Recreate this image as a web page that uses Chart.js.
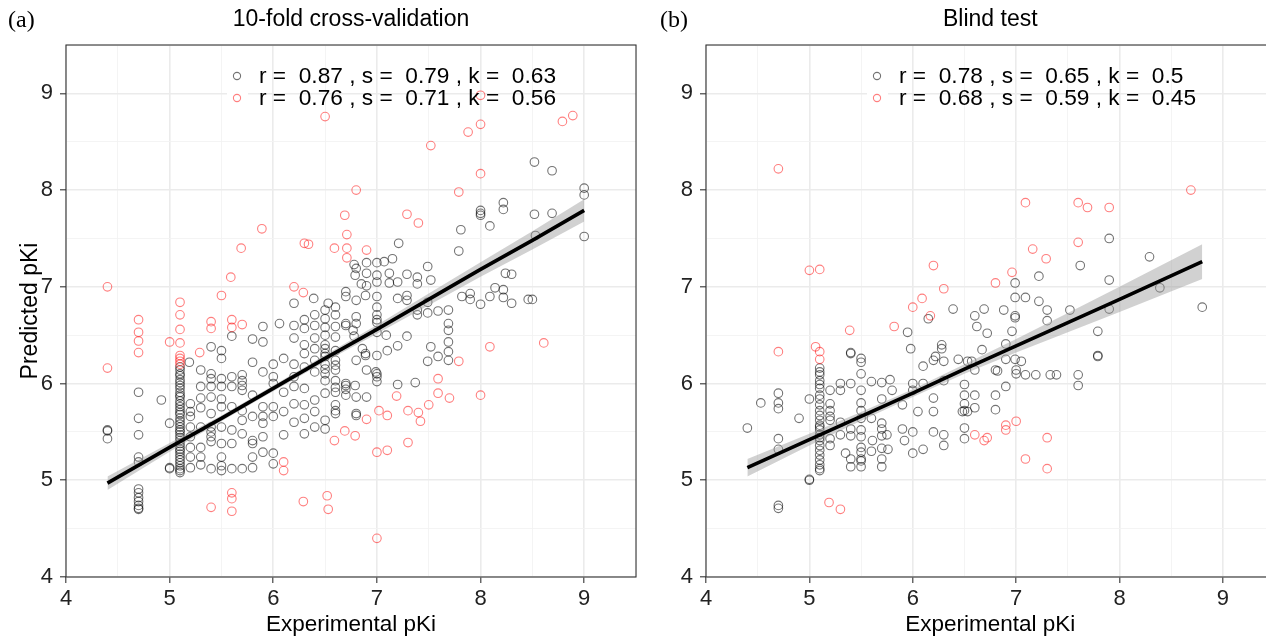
<!DOCTYPE html>
<html>
<head>
<meta charset="utf-8">
<script src="https://cdn.jsdelivr.net/npm/chart.js@4"></script>
<style>
  html, body { margin: 0; padding: 0; background: #fff; overflow: hidden; }
  #wrap { position: relative; width: 1266px; height: 640px; overflow: hidden; }
  canvas { position: absolute; top: 0; }
  #cv { left: 0; }
  #bt { left: 640px; }
</style>
</head>
<body>
<div id="wrap">
  <canvas id="cv" width="650" height="640"></canvas>
  <canvas id="bt" width="640" height="640"></canvas>
</div>
<script>
// ---- axis ticks (both panels) ----
const tickMajor = [4, 5, 6, 7, 8, 9];
const tickMinor = [4.5, 5.5, 6.5, 7.5, 8.5, 9.5];

// ---- (a) 10-fold cross-validation ----
const cvBlack = [
  [4.4,5.52],[4.4,5.51],[4.4,5.43],
  [4.7,5.91],[4.7,5.64],[4.7,5.47],[4.7,5.24],[4.7,5.19],[4.7,4.91],[4.7,4.87],[4.7,4.82],[4.7,4.78],[4.7,4.74],[4.7,4.71],[4.7,4.70],
  [4.92,5.83],[5.0,5.59],[5.0,5.13],[5.0,5.12],
  [5.1,6.17],[5.1,6.14],[5.1,6.1],[5.1,6.08],[5.1,6.04],[5.1,6.01],[5.1,5.98],[5.1,5.95],[5.1,5.91],[5.1,5.88],[5.1,5.86],[5.1,5.82],
  [5.1,5.79],[5.1,5.76],[5.1,5.73],[5.1,5.7],[5.1,5.68],[5.1,5.64],[5.1,5.61],[5.1,5.58],[5.1,5.55],[5.1,5.52],[5.1,5.5],[5.1,5.47],
  [5.1,5.44],[5.1,5.41],[5.1,5.38],[5.1,5.35],[5.1,5.32],[5.1,5.3],[5.1,5.27],[5.1,5.24],[5.1,5.21],[5.1,5.18],[5.1,5.15],[5.1,5.12],[5.1,5.1],[5.1,5.08],
  [5.19,6.22],[5.2,5.79],[5.2,5.71],[5.2,5.66],[5.2,5.55],[5.2,5.45],[5.2,5.34],[5.2,5.24],[5.2,5.13],
  [5.3,6.14],[5.3,5.97],[5.3,5.85],[5.3,5.75],[5.3,5.55],[5.3,5.34],[5.3,5.24],[5.3,5.16],
  [5.4,6.38],[5.4,6.1],[5.4,6.05],[5.4,5.97],[5.4,5.86],[5.4,5.69],[5.4,5.55],[5.4,5.5],[5.4,5.45],[5.4,5.4],[5.4,5.12],
  [5.5,6.34],[5.5,6.26],[5.5,6.05],[5.5,5.97],[5.5,5.84],[5.5,5.76],[5.5,5.55],[5.5,5.38],[5.5,5.24],[5.5,5.15],[5.5,5.1],
  [5.6,6.49],[5.6,6.07],[5.6,5.97],[5.6,5.76],[5.6,5.52],[5.6,5.38],[5.6,5.12],
  [5.7,6.09],[5.7,6.03],[5.7,5.98],[5.7,5.93],[5.7,5.72],[5.7,5.62],[5.7,5.48],[5.7,5.12],
  [5.8,6.46],[5.8,6.22],[5.8,5.88],[5.8,5.66],[5.8,5.41],[5.8,5.38],[5.8,5.24],[5.8,5.13],
  [5.9,6.59],[5.9,6.43],[5.9,6.12],[5.9,5.76],[5.9,5.66],[5.9,5.59],[5.9,5.45],[5.9,5.29],
  [6.0,6.2],[6.0,6.07],[6.0,6.0],[6.0,5.76],[6.0,5.66],[6.0,5.28],[6.0,5.17],
  [6.06,6.62],[6.1,6.26],[6.1,5.91],[6.1,5.71],[6.1,5.47],
  [6.2,6.83],[6.2,6.6],[6.2,6.47],[6.2,6.2],[6.2,6.07],[6.2,5.97],[6.2,5.79],[6.2,5.6],
  [6.3,6.66],[6.3,6.57],[6.3,6.4],[6.3,6.31],[6.3,6.17],[6.3,5.95],[6.3,5.78],[6.3,5.64],[6.3,5.48],
  [6.39,6.88],[6.4,6.71],[6.4,6.6],[6.4,6.47],[6.4,6.36],[6.4,6.24],[6.4,6.12],[6.4,5.83],[6.4,5.71],[6.4,5.55],
  [6.5,6.76],[6.5,6.67],[6.5,6.58],[6.5,6.5],[6.5,6.4],[6.5,6.36],[6.5,6.31],[6.5,6.28],[6.5,6.2],[6.5,6.15],[6.5,6.1],[6.5,6.03],[6.5,5.9],[6.5,5.62],[6.5,5.53],
  [6.53,6.83],
  [6.6,6.79],[6.6,6.71],[6.6,6.59],[6.6,6.48],[6.6,6.34],[6.6,6.24],[6.6,6.19],[6.6,6.14],[6.6,6.03],[6.6,5.96],[6.6,5.91],[6.6,5.78],[6.6,5.72],[6.6,5.69],
  [6.7,6.95],[6.7,6.9],[6.7,6.62],[6.7,6.6],[6.7,6.0],[6.7,5.98],[6.7,5.94],[6.7,5.88],
  [6.78,7.23],[6.8,7.19],[6.79,7.12],[6.8,6.86],[6.8,6.69],[6.8,6.62],[6.77,6.55],[6.78,6.49],[6.8,6.24],[6.79,5.98],[6.8,5.86],[6.8,5.69],[6.8,5.67],
  [6.9,7.25],[6.85,7.03],[6.9,7.14],[6.9,7.01],[6.89,6.91],[6.86,6.36],[6.89,6.29],[6.9,6.14],[6.89,6.31],[6.9,5.86],
  [7.0,7.25],[7.0,7.12],[7.0,7.05],[7.0,6.9],[7.0,6.79],[7.0,6.71],[7.0,6.66],[7.0,6.63],[7.0,6.53],[7.0,6.29],[7.0,6.1],[7.0,6.07],[7.0,6.02],[6.99,6.12],
  [7.07,7.26],[7.12,7.14],[7.12,7.04],[7.09,6.5],[7.1,6.34],
  [7.15,7.29],[7.2,7.05],[7.2,6.88],[7.2,6.39],[7.21,7.45],[7.2,5.99],
  [7.29,7.13],[7.29,6.91],[7.29,6.86],[7.29,6.49],
  [7.37,6.01],[7.39,7.1],[7.39,7.03],[7.39,6.76],[7.39,6.71],
  [7.49,7.21],[7.52,7.07],[7.49,6.84],[7.49,6.73],[7.52,6.38],[7.49,6.23],
  [7.59,6.75],[7.59,6.28],
  [7.69,6.76],[7.69,6.62],[7.69,6.55],[7.69,6.43],[7.69,6.33],[7.69,6.24],
  [7.81,7.59],[7.79,7.37],[7.82,6.9],[7.9,6.93],[7.9,6.87],
  [8.0,7.79],[8.0,7.76],[8.0,7.74],[8.0,6.82],
  [8.09,7.63],[8.09,6.9],[8.14,6.99],
  [8.22,7.87],[8.22,7.8],[8.22,6.97],[8.22,6.89],
  [8.24,7.14],[8.3,7.13],[8.3,6.83],
  [8.46,6.87],[8.5,6.87],[8.52,8.29],[8.52,7.75],[8.53,7.53],
  [8.69,8.2],[8.69,7.76],
  [9.0,8.02],[9.0,7.95],[9.0,7.52]
];
const cvRed = [
  [4.4,7.0],[4.4,6.16],[4.7,6.66],[4.7,6.53],[4.7,6.44],[4.7,6.32],[5.0,6.43],
  [5.1,6.84],[5.1,6.71],[5.1,6.56],[5.1,6.42],[5.1,6.29],[5.1,6.26],[5.1,6.23],[5.1,6.2],
  [5.29,6.32],[5.4,6.64],[5.4,6.57],[5.5,6.91],[5.6,6.66],[5.6,6.58],[5.7,6.61],[5.59,7.1],[5.69,7.4],[5.89,7.6],
  [6.2,7.0],[6.29,6.94],[6.3,7.45],[6.34,7.44],[6.5,8.76],[6.59,7.4],[6.69,7.74],[6.71,7.54],[6.71,7.4],[6.71,7.3],
  [6.8,8.0],[6.9,7.38],[7.29,7.75],[7.4,7.66],[7.52,8.46],[7.79,7.98],[7.88,8.6],[8.0,8.68],[8.0,8.17],[8.0,8.98],
  [8.79,8.71],[8.89,8.77],
  [6.1,5.19],[6.1,5.1],[5.4,4.72],[5.6,4.87],[5.6,4.81],[5.6,4.68],[6.29,4.78],[6.52,4.84],[6.53,4.7],
  [6.59,5.41],[6.69,5.51],[6.79,5.46],[6.9,5.63],[7.02,5.72],[7.1,5.67],[7.19,5.87],[7.3,5.72],[7.4,5.7],[7.42,5.61],
  [7.5,5.78],[7.59,6.05],[7.59,5.9],[7.7,5.85],[7.79,6.23],[8.0,5.88],[7.0,5.29],[7.1,5.31],[7.3,5.39],[7.0,4.4],
  [8.09,6.38],[8.61,6.42]
];
const cvFitX  = [4.4, 5.0, 5.5, 6.0, 6.5, 7.0, 7.5, 8.0, 8.5, 9.0];
const cvFitY  = [4.97, 5.34, 5.64, 5.95, 6.26, 6.56, 6.87, 7.18, 7.48, 7.79];
const cvFitLo = [4.90, 5.295, 5.61, 5.92, 6.225, 6.515, 6.81, 7.105, 7.385, 7.675];
const cvFitHi = [5.04, 5.385, 5.67, 5.98, 6.295, 6.605, 6.93, 7.255, 7.575, 7.905];
const cvLegend = ['r =  0.87 , s =  0.79 , k =  0.63', 'r =  0.76 , s =  0.71 , k =  0.56'];

// ---- (b) Blind test ----
const btBlack = [
  [4.4,5.54],[4.53,5.8],[4.7,5.9],[4.7,5.8],[4.7,5.74],[4.7,5.43],[4.7,5.32],[4.7,4.74],[4.7,4.71],
  [4.9,5.64],[5.0,5.84],[5.0,5.01],[5.0,5.0],
  [5.1,6.16],[5.1,6.12],[5.1,6.09],[5.1,6.03],[5.1,5.99],[5.1,5.95],[5.1,5.88],[5.1,5.84],[5.1,5.78],[5.1,5.72],[5.1,5.67],
  [5.1,5.62],[5.1,5.57],[5.1,5.55],[5.1,5.52],[5.1,5.47],[5.1,5.44],[5.1,5.41],[5.1,5.36],[5.1,5.31],[5.1,5.26],[5.1,5.21],[5.1,5.16],[5.1,5.12],[5.1,5.1],
  [5.2,5.93],[5.2,5.79],[5.2,5.72],[5.2,5.66],[5.2,5.62],[5.2,5.43],[5.2,5.36],
  [5.3,6.0],[5.3,5.93],[5.3,5.6],[5.3,5.47],[5.35,5.28],
  [5.4,6.32],[5.4,6.31],[5.4,6.0],[5.4,5.53],[5.4,5.46],[5.4,5.22],[5.4,5.14],
  [5.5,6.26],[5.5,6.22],[5.5,6.1],[5.5,5.93],[5.5,5.8],[5.5,5.72],[5.5,5.64],[5.5,5.52],[5.5,5.45],[5.5,5.34],[5.5,5.29],[5.5,5.22],[5.5,5.2],[5.5,5.14],
  [5.6,6.02],[5.6,5.64],[5.61,5.41],[5.6,5.3],
  [5.7,6.01],[5.7,5.84],[5.7,5.59],[5.7,5.53],[5.7,5.46],[5.7,5.33],[5.7,5.22],[5.7,5.14],[5.75,5.47],[5.76,5.32],[5.78,6.04],[5.8,5.93],
  [5.9,5.78],[5.9,5.53],[5.92,5.41],[5.95,6.53],[5.98,6.36],
  [6.0,6.0],[6.0,5.93],[6.0,5.5],[6.0,5.28],[6.05,5.71],
  [6.1,6.18],[6.1,6.0],[6.1,5.32],
  [6.15,6.67],[6.2,6.24],[6.22,6.28],[6.2,5.85],[6.2,5.71],[6.2,5.5],
  [6.28,6.4],[6.28,6.36],[6.3,6.23],[6.3,6.03],[6.3,5.47],[6.3,5.36],
  [6.39,6.77],[6.44,6.25],
  [6.53,6.23],[6.5,5.99],[6.5,5.88],[6.5,5.79],[6.5,5.72],[6.48,5.71],[6.53,5.71],[6.5,5.54],[6.5,5.43],
  [6.6,6.7],[6.62,6.59],[6.57,6.23],[6.6,6.14],[6.6,5.88],[6.6,5.75],
  [6.69,6.77],[6.72,6.52],[6.67,6.35],
  [6.8,6.14],[6.82,6.13],[6.8,5.88],[6.8,5.73],
  [6.88,6.76],[6.9,6.41],[6.9,6.25],[6.9,5.97],
  [6.96,6.54],[6.99,7.04],[6.99,6.89],[6.99,6.7],[6.99,6.68],[6.99,6.25],[7.0,6.14],[7.0,6.1],[7.05,6.23],
  [7.09,6.89],[7.09,6.09],
  [7.22,7.11],[7.22,6.85],[7.19,6.09],
  [7.3,6.76],[7.3,6.65],[7.33,6.09],[7.39,6.09],
  [7.52,6.76],
  [7.62,7.22],[7.6,6.09],[7.6,5.98],
  [7.79,6.54],[7.79,6.29],[7.79,6.28],
  [7.9,7.5],[7.9,7.07],[7.9,6.77],
  [8.29,7.31],[8.39,6.99],[8.8,6.79]
];
const btRed = [
  [4.7,8.22],[4.7,6.33],[5.0,7.17],[5.1,7.18],[5.06,6.38],[5.1,6.33],[5.1,6.25],[5.39,6.55],[5.82,6.59],
  [6.0,6.79],[6.09,6.88],[6.17,6.7],[6.2,7.22],[6.3,6.98],[6.8,7.04],[6.96,7.15],[7.09,7.87],[7.16,7.39],
  [7.29,7.29],[7.6,7.87],[7.69,7.82],[7.9,7.82],[7.6,7.46],[8.69,8.0],
  [5.19,4.77],[5.3,4.7],[6.6,5.47],[6.69,5.41],[6.72,5.44],[6.9,5.57],[6.9,5.52],[7.0,5.61],[7.3,5.44],[7.09,5.22],[7.3,5.12]
];
const btFitX  = [4.4, 5.0, 5.5, 6.0, 6.5, 7.0, 7.5, 8.0, 8.8];
const btFitY  = [5.13, 5.42, 5.66, 5.90, 6.15, 6.39, 6.63, 6.87, 7.26];
const btFitLo = [5.04, 5.36, 5.615, 5.86, 6.10, 6.32, 6.53, 6.74, 7.08];
const btFitHi = [5.22, 5.48, 5.705, 5.94, 6.20, 6.46, 6.73, 7.00, 7.44];
const btLegend = ['r =  0.78 , s =  0.65 , k =  0.5', 'r =  0.68 , s =  0.59 , k =  0.45'];

const BLACK = 'rgba(0,0,0,0.55)';
const RED = 'rgba(255,0,0,0.5)';
const SANS = '"Liberation Sans", Arial, Helvetica, sans-serif';

Chart.defaults.font.family = SANS;
Chart.defaults.color = '#222';

const pts = arr => arr.map(p => ({ x: p[0], y: p[1] }));
const zipXY = (xs, ys) => xs.map((x, i) => ({ x: x, y: ys[i] }));

// draws panel frame, tag, title, axis titles and the r/s/k legend
const panelDecor = {
  id: 'panelDecor',
  beforeDatasetsDraw(chart, args, o) {
    const a = chart.chartArea, ctx = chart.ctx;
    ctx.save();
    ctx.fillStyle = '#fff';
    ctx.fillRect(a.left + 161, 62, 21, 48);
    ctx.restore();
  },
  afterDraw(chart, args, o) {
    const a = chart.chartArea, ctx = chart.ctx;
    const cx = (a.left + a.right) / 2;
    ctx.save();
    ctx.strokeStyle = '#333';
    ctx.lineWidth = 1.1;
    ctx.strokeRect(a.left, a.top, a.right - a.left, a.bottom - a.top);

    ctx.fillStyle = '#000';
    ctx.textBaseline = 'middle';
    ctx.font = '24px "Liberation Serif", "Times New Roman", serif';
    ctx.textAlign = 'left';
    ctx.fillText(o.tag, o.tagX, 21);

    ctx.font = '23px ' + SANS;
    ctx.textAlign = 'center';
    ctx.fillText(o.title, cx, 20);

    ctx.font = '22.5px ' + SANS;
    ctx.fillText('Experimental pKi', cx, 625);
    if (o.yTitle) {
      ctx.save();
      ctx.translate(31, (a.top + a.bottom) / 2);
      ctx.rotate(-Math.PI / 2);
      ctx.font = '23px ' + SANS;
      ctx.fillText(o.yTitle, 0, 0);
      ctx.restore();
    }

    // legend
    const rows = [76, 98], cols = [BLACK, RED];
    ctx.font = '22.7px ' + SANS;
    ctx.textAlign = 'left';
    rows.forEach((y, i) => {
      ctx.beginPath();
      ctx.arc(a.left + 171, y, 3.6, 0, Math.PI * 2);
      ctx.strokeStyle = cols[i];
      ctx.lineWidth = 1.1;
      ctx.stroke();
      ctx.fillStyle = '#000';
      ctx.fillText(o.legend[i], a.left + 193, y + 1);
    });
    ctx.restore();
  }
};

function axis(isX) {
  return {
    type: 'linear',
    min: 4,
    max: 9.5,
    afterBuildTicks: s => {
      s.ticks = tickMajor.concat(tickMinor).sort((p, q) => p - q).map(v => ({ value: v }));
    },
    afterFit: s => {
      if (isX) s.height = 63; else s.width = 66;
    },
    border: { display: false },
    grid: {
      color: c => tickMajor.includes(c.tick && c.tick.value) ? '#ebebeb' : '#f3f3f3',
      lineWidth: c => tickMajor.includes(c.tick && c.tick.value) ? 1.6 : 0.9,
      tickColor: c => tickMajor.includes(c.tick && c.tick.value) ? '#333' : 'rgba(0,0,0,0)',
      tickLength: 6,
      tickWidth: 1.1
    },
    ticks: {
      autoSkip: false,
      maxRotation: 0,
      padding: isX ? 3 : 7,
      color: '#222',
      font: { size: 22 },
      callback: v => tickMajor.includes(v) ? String(v) : ''
    }
  };
}

function makePanel(id, black, red, fx, fy, lo, hi, deco, padRight) {
  return new Chart(document.getElementById(id), {
    type: 'scatter',
    data: {
      datasets: [
        { type: 'line', data: zipXY(fx, fy), borderColor: '#000', borderWidth: 3.6,
          pointRadius: 0, fill: false, order: 0 },
        { type: 'line', data: zipXY(fx, hi), borderWidth: 0, borderColor: 'rgba(0,0,0,0)',
          pointRadius: 0, fill: '+1', backgroundColor: 'rgba(153,153,153,0.45)', order: 1 },
        { type: 'line', data: zipXY(fx, lo), borderWidth: 0, borderColor: 'rgba(0,0,0,0)',
          pointRadius: 0, fill: false, order: 1 },
        { data: pts(red), pointRadius: 4.3, borderWidth: 1.1, pointBorderColor: RED,
          pointBackgroundColor: 'rgba(0,0,0,0)', order: 2 },
        { data: pts(black), pointRadius: 4.3, borderWidth: 1.1, pointBorderColor: BLACK,
          pointBackgroundColor: 'rgba(0,0,0,0)', order: 3 }
      ]
    },
    options: {
      responsive: false,
      animation: false,
      devicePixelRatio: 1,
      layout: { padding: { top: 45, right: padRight, left: 0, bottom: 0 } },
      scales: { x: axis(true), y: axis(false) },
      plugins: {
        legend: { display: false },
        tooltip: { enabled: false },
        panelDecor: deco
      }
    },
    plugins: [panelDecor]
  });
}

makePanel('cv', cvBlack, cvRed, cvFitX, cvFitY, cvFitLo, cvFitHi,
  { tag: '(a)', tagX: 8, title: '10-fold cross-validation', yTitle: 'Predicted pKi', legend: cvLegend }, 14);
makePanel('bt', btBlack, btRed, btFitX, btFitY, btFitLo, btFitHi,
  { tag: '(b)', tagX: 20, title: 'Blind test', yTitle: null, legend: btLegend }, 2);
</script>
</body>
</html>
